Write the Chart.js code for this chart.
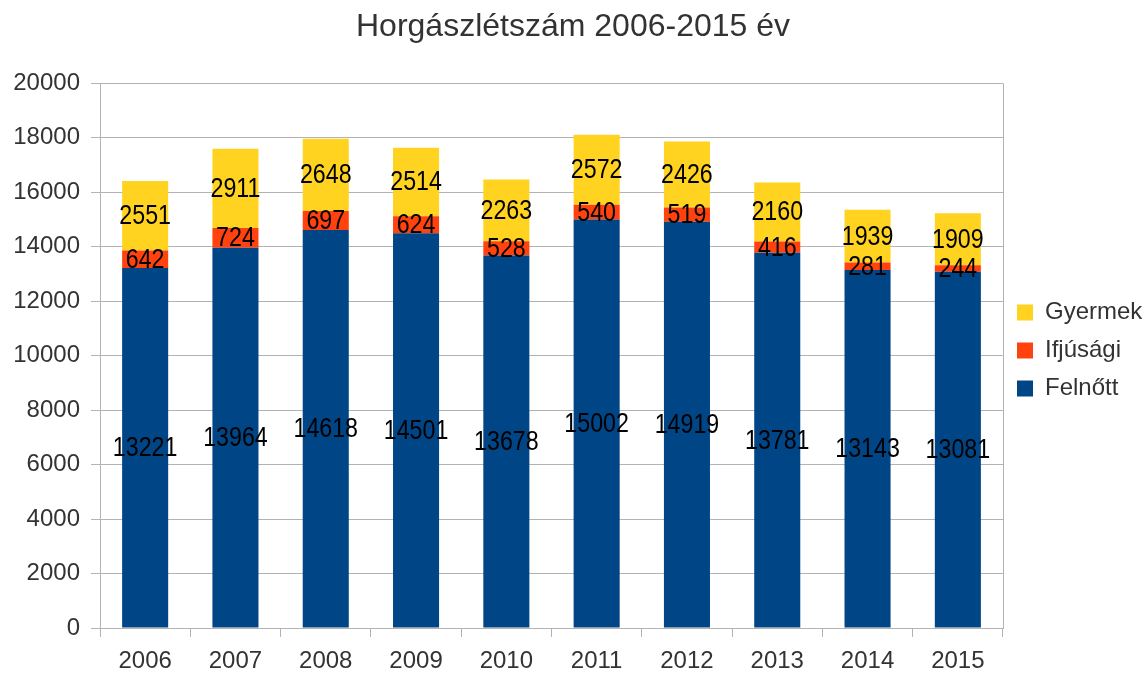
<!DOCTYPE html>
<html lang="hu">
<head>
  <meta charset="UTF-8" />
  <title>Horgászlétszám 2006-2015</title>
  <script src="https://cdn.jsdelivr.net/npm/chart.js"></script>
  <style>
    html, body { margin: 0; padding: 0; background: #fff; }
    #wrap { width: 1146px; height: 675px; }
  </style>
</head>
<body>
  <div id="wrap"><canvas id="horgaszChart" width="1146" height="675"></canvas></div>

  <script>
    // adatok
    const evek = ['2006', '2007', '2008', '2009', '2010', '2011', '2012', '2013', '2014', '2015'];
    const felnott = [13221, 13964, 14618, 14501, 13678, 15002, 14919, 13781, 13143, 13081];
    const ifjusagi = [642, 724, 697, 624, 528, 540, 519, 416, 281, 244];
    const gyermek = [2551, 2911, 2648, 2514, 2263, 2572, 2426, 2160, 1939, 1909];
    const yTicks = [0, 2000, 4000, 6000, 8000, 10000, 12000, 14000, 16000, 18000, 20000];

    const racsSzin = '#b3b3b3';
    const betu = "'Liberation Sans', Arial, sans-serif";

    // értékek kiírása a szegmensek közepére (kicsit keskenyített betűvel)
    const ertekCimkek = {
      id: 'ertekCimkek',
      afterDatasetsDraw(chart) {
        const ctx = chart.ctx;
        chart.data.datasets.forEach((ds, i) => {
          chart.getDatasetMeta(i).data.forEach((bar, j) => {
            const p = bar.getProps(['x', 'y', 'base'], true);
            ctx.save();
            ctx.translate(p.x, (p.y + p.base) / 2 + 1);
            ctx.scale(0.86, 1);
            ctx.font = '27px ' + betu;
            ctx.fillStyle = '#000';
            ctx.textAlign = 'center';
            ctx.textBaseline = 'middle';
            ctx.fillText(ds.data[j], 0, 0);
            ctx.restore();
          });
        });
      }
    };

    // jobb oldali keret
    const keret = {
      id: 'keret',
      beforeDatasetsDraw(chart) {
        const a = chart.chartArea;
        const ctx = chart.ctx;
        ctx.save();
        ctx.strokeStyle = racsSzin;
        ctx.lineWidth = 1;
        ctx.beginPath();
        ctx.moveTo(Math.round(a.right) + 0.5, a.top);
        ctx.lineTo(Math.round(a.right) + 0.5, a.bottom);
        ctx.stroke();
        ctx.restore();
      }
    };

    new Chart(document.getElementById('horgaszChart'), {
      type: 'bar',
      data: {
        labels: evek,
        datasets: [
          { label: 'Felnőtt', data: felnott, backgroundColor: '#004586' },
          { label: 'Ifjúsági', data: ifjusagi, backgroundColor: '#ff420e' },
          { label: 'Gyermek', data: gyermek, backgroundColor: '#ffd320' }
        ]
      },
      options: {
        responsive: false,
        animation: false,
        barPercentage: 0.51,
        categoryPercentage: 1,
        layout: { padding: 0 },
        plugins: {
          title: {
            display: true,
            text: 'Horgászlétszám 2006-2015 év',
            color: '#333',
            font: { family: betu, size: 32, weight: 'normal' },
            padding: { top: 8, bottom: 37 }
          },
          legend: {
            position: 'right',
            reverse: true,
            maxWidth: 143,
            title: { display: true, text: ' ', font: { size: 20 }, padding: 1 },
            labels: {
              color: '#333',
              font: { family: betu, size: 24 },
              boxWidth: 16,
              boxHeight: 16,
              padding: 14
            }
          },
          tooltip: { enabled: false }
        },
        scales: {
          x: {
            stacked: true,
            grid: { drawOnChartArea: false, color: racsSzin, tickLength: 9, offset: true },
            border: { color: racsSzin },
            ticks: { color: '#333', font: { family: betu, size: 24 }, padding: 10 },
            afterFit: s => { s.height = 47; }
          },
          y: {
            stacked: true,
            min: 0,
            max: 20000,
            afterBuildTicks: s => { s.ticks = yTicks.map(v => ({ value: v })); },
            grid: { color: racsSzin, tickLength: 9 },
            border: { color: racsSzin },
            ticks: {
              color: '#333',
              font: { family: betu, size: 24 },
              padding: 11,
              callback: v => String(v)
            },
            afterFit: s => { s.width = 100; }
          }
        }
      },
      plugins: [keret, ertekCimkek]
    });
  </script>
</body>
</html>
